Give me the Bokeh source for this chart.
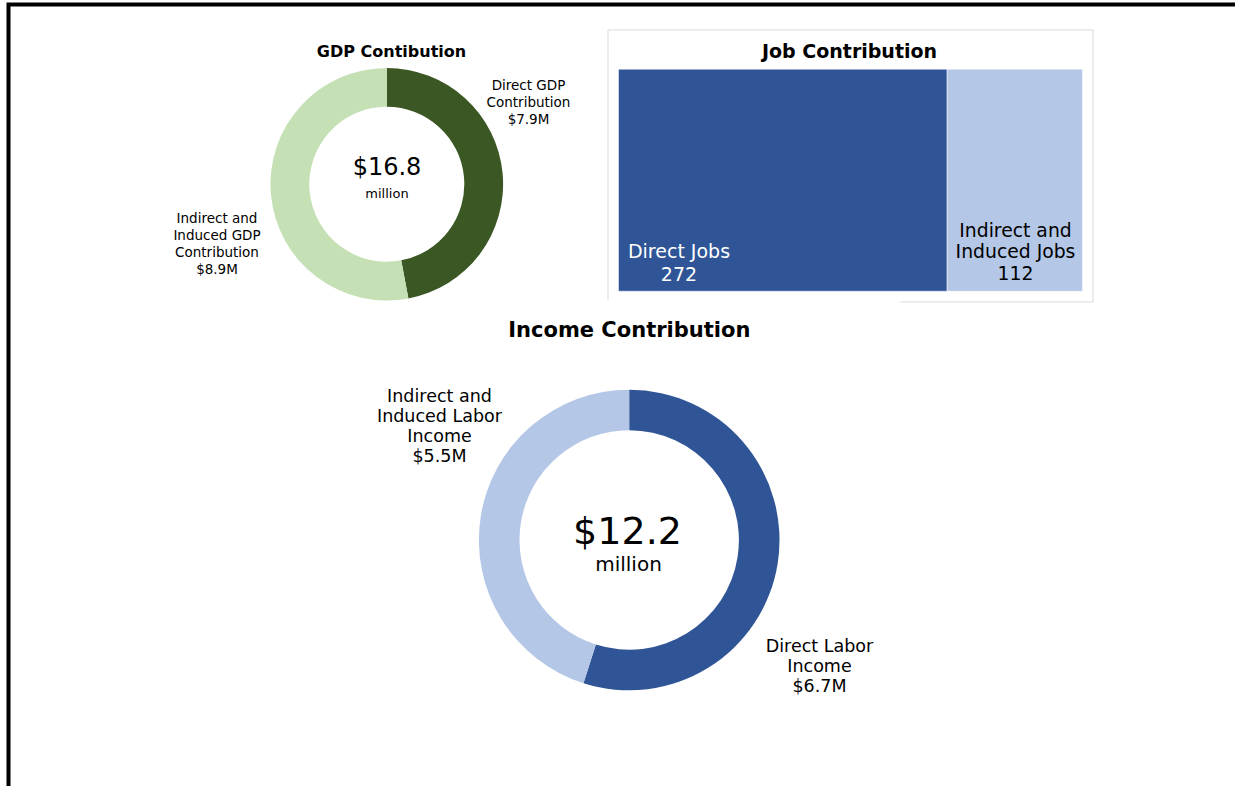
import numpy as np
from bokeh.plotting import figure
from bokeh.models import Range1d
from bokeh.core.properties import value
from bokeh.embed import file_html
from bokeh.resources import INLINE

# ---- data ----
titles = ["GDP Contibution", "Job Contribution", "Income Contribution"]
gdp_labels = ["Direct GDP\nContribution", "Indirect and\nInduced GDP\nContribution"]
gdp_values = [7.9, 8.9]
gdp_total = 16.8
job_labels = ["Direct Jobs", "Indirect and\nInduced Jobs"]
job_values = [272, 112]
income_labels = ["Direct Labor\nIncome", "Indirect and\nInduced Labor\nIncome"]
income_values = [6.7, 5.5]
income_total = 12.2

GREEN_DARK, GREEN_LIGHT = "#3B5724", "#C5E0B4"
BLUE_DARK, BLUE_LIGHT = "#2F5597", "#B4C7E7"
FONT = value("DejaVu Sans")
EM = 1.164  # DejaVu Sans ascent+descent per em

W, H = 1239, 790
OFF = -4  # page offset of the canvas
p = figure(width=W, height=H, x_range=Range1d(OFF, W + OFF), y_range=Range1d(H + OFF, OFF),
           output_backend="svg", toolbar_location=None, min_border=0,
           margin=(-4, -4, -4, -4))
p.axis.visible = False
p.grid.visible = False
p.outline_line_color = None
p.background_fill_color = "white"
p.border_fill_color = "white"


def donut(cx, cy, r_in, r_out, vals, colors):
    v = np.array(vals, dtype=float)
    frac = v / v.sum()
    ends = np.cumsum(frac)
    starts = ends - frac
    p.annular_wedge(x=cx, y=cy, inner_radius=r_in, outer_radius=r_out,
                    start_angle=list(np.pi / 2 - starts * 2 * np.pi),
                    end_angle=list(np.pi / 2 - ends * 2 * np.pi),
                    direction="clock", fill_color=colors, line_color=None)


def txt(x, y, t, size, color="black", bold=False, spacing=None):
    lh = 1.2 if spacing is None else spacing / (EM * size)
    p.text(x=x, y=y, text=t, text_font=FONT, text_font_size=f"{size}px",
           text_font_style="bold" if bold else "normal", text_color=color,
           text_align="center", text_baseline="middle", text_line_height=lh)


# outer border
p.line(x=[8, 8, W + 10], y=[H + 10, 4, 4], line_color="black", line_width=4, line_join="miter")

# ---- GDP donut ----
donut(386.3, 183.7, 77.5, 116.3, gdp_values, [GREEN_DARK, GREEN_LIGHT])
txt([391], [51], [titles[0]], 16, bold=True)
txt([386.5], [166], [f"${gdp_total}"], 24)
txt([386.5], [193], ["million"], 13)
gdp_text = [f"{l}\n${v}M" for l, v in zip(gdp_labels, gdp_values)]
txt([528, 216.5], [101.5, 243], gdp_text, 13.5, spacing=16.5)

# ---- Job treemap ----
frame_c = "#D9D9D9"
p.line(x=[607.5, 607.5, 1092.5, 1092.5], y=[300, 29.5, 29.5, 301.5], line_color=frame_c, line_width=1)
p.line(x=[900, 1092.5], y=[301.5, 301.5], line_color=frame_c, line_width=1)
txt([849], [50.5], [titles[1]], 19, bold=True)
jv = np.array(job_values, dtype=float)
x0, x1, y0, y1 = 618, 1082, 68.7, 290.7
cum = np.concatenate([[0], np.cumsum(jv)]) / jv.sum()
lefts = x0 + cum[:-1] * (x1 - x0)
rights = x0 + cum[1:] * (x1 - x0)
p.quad(left=list(lefts), right=list(rights), top=y0, bottom=y1,
       fill_color=[BLUE_DARK, BLUE_LIGHT], line_color="white", line_width=1, line_alpha=0.5)
job_text = [f"{l}\n{v}" for l, v in zip(job_labels, job_values)]
txt([678.5], [262], [job_text[0]], 19, color="white", spacing=22.7)
txt([1015], [251.5], [job_text[1]], 18.8, color="black", spacing=22.7)

# ---- Income donut ----
txt([628.8], [329], [titles[2]], 21, bold=True)
donut(628.7, 539.5, 109.7, 150.3, income_values, [BLUE_DARK, BLUE_LIGHT])
txt([627], [530], [f"${income_total}"], 38)
txt([628], [563], ["million"], 20)
inc_text = [f"{l}\n${v}M" for l, v in zip(income_labels, income_values)]
txt([819, 439], [665.5, 425.5], inc_text, 17.5, spacing=20.7)

open("out.html", "w").write(file_html(p, INLINE))
